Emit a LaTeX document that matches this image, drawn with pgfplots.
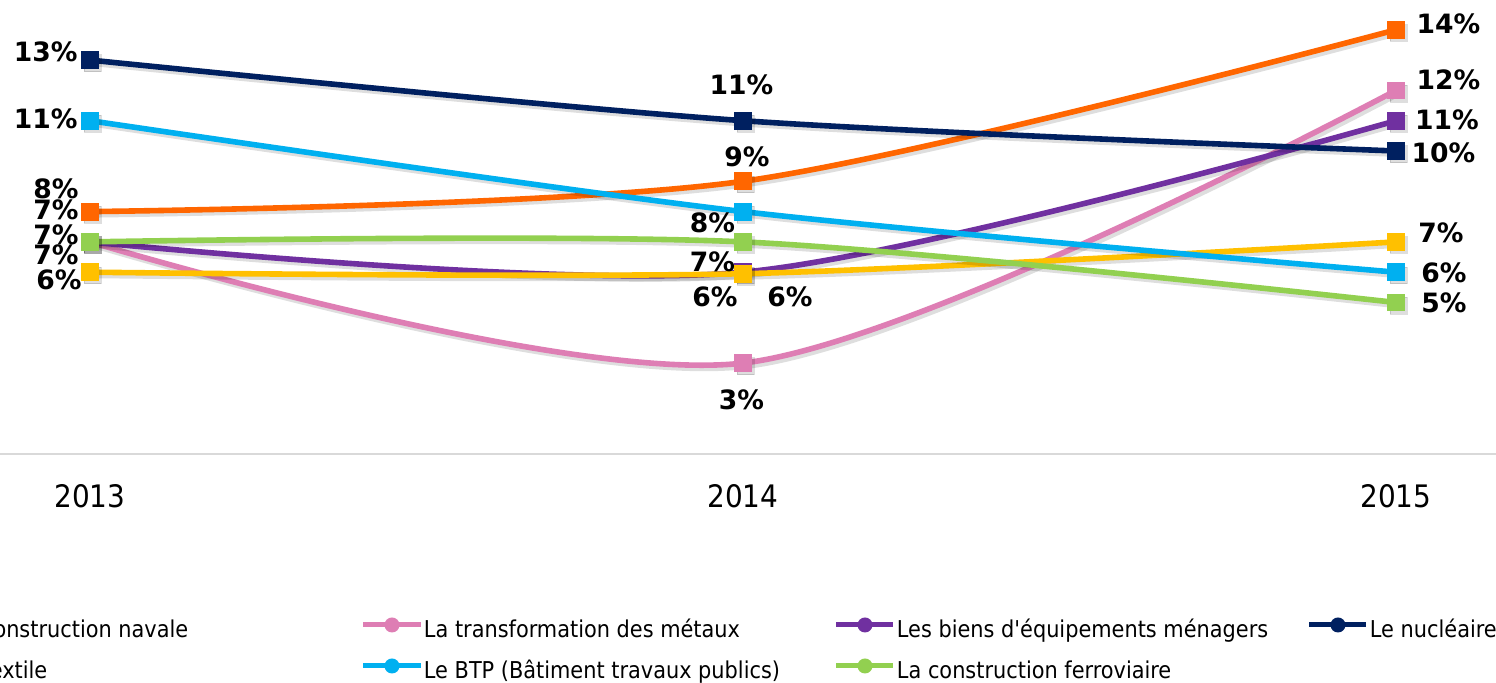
\documentclass[border=0pt]{standalone}
\usepackage{pgfplots}
\pgfplotsset{compat=1.18}
\usepackage{fontspec}
\IfFontExistsTF{DejaVu Sans Condensed}{\setmainfont{DejaVu Sans Condensed}[Ligatures=TeXOff]}{\setmainfont{Liberation Sans}[Ligatures=TeXOff]}
\newfontfamily\lblfont{DejaVu Sans}
\definecolor{cnav}{HTML}{FF6600}
\definecolor{cmet}{HTML}{DE7EB4}
\definecolor{cbie}{HTML}{7030A0}
\definecolor{cnuc}{HTML}{002060}
\definecolor{ctex}{HTML}{FFC000}
\definecolor{cbtp}{HTML}{00B0F0}
\definecolor{cfer}{HTML}{92D050}
\definecolor{axgray}{HTML}{D9D9D9}
\newcommand\LE[1]{\makebox[205.5pt][l]{\rule[-5pt]{0pt}{19.5pt}\hspace{0.5pt}#1}}
\pgfplotsset{shadow/.style={forget plot, color=black, opacity=0.13, xshift=1.3pt, yshift=-1.6pt}}
\begin{document}
\begin{tikzpicture}
\path[use as bounding box] (118.25pt,-114.5pt) rectangle (866.25pt,227pt);
\fill[white] (118.25pt,-114.5pt) rectangle (866.25pt,227pt);
\clip (118.25pt,-114.5pt) rectangle (866.25pt,227pt);
\begin{axis}[
  at={(0pt,0pt)}, anchor=south west,
  scale only axis, width=979.5pt, height=227.25pt,
  xmin=-0.5, xmax=2.5, ymin=0, ymax=15,
  axis lines*=left,
  axis line style={draw=axgray, line width=1pt},
  ytick=\empty,
  xtick={0,1,2}, xticklabels={2013,2014,2015},
  major tick length=0pt,
  xticklabel style={anchor=base, yshift=-27pt, font=\fontsize{15.5}{18}\selectfont},
  clip=false,
  every axis plot/.append style={line width=2.8pt, smooth, mark=square*, mark size=4.2pt,
     mark options={solid, rounded corners=1.6pt, line width=0.4pt}},
  legend columns=4,
  legend cell align=left,
  legend image code/.code={
    \draw[#1, line width=2.5pt, mark=none] (0pt,0pt) -- (28.5pt,0pt);
    \fill[#1, draw=none] (14.25pt,0pt) circle (3.75pt);
  },
  legend style={at={(0.06355,-0.34103)}, anchor=north west, draw=none, fill=none,
    inner sep=0pt, outer sep=0pt, column sep=0pt, row sep=4.5pt,
    font=\fontsize{11.6}{14}\selectfont,
    nodes={inner sep=0pt, outer sep=0pt}},
]
\addplot[shadow] coordinates {(0,8.0) (1,9.0) (2,14.0)};
\addplot[color=cnav] coordinates {(0,8.0) (1,9.0) (2,14.0)};
\addlegendentry{\LE{La construction navale}}
\addplot[shadow] coordinates {(0,7.0) (1,3.0) (2,12.0)};
\addplot[color=cmet] coordinates {(0,7.0) (1,3.0) (2,12.0)};
\addlegendentry{\LE{La transformation des métaux}}
\addplot[shadow] coordinates {(0,7.0) (1,6.0) (2,11.0)};
\addplot[color=cbie] coordinates {(0,7.0) (1,6.0) (2,11.0)};
\addlegendentry{\LE{Les biens d'équipements ménagers}}
\addplot[shadow] coordinates {(0,13.0) (1,11.0) (2,10.0)};
\addplot[color=cnuc] coordinates {(0,13.0) (1,11.0) (2,10.0)};
\addlegendentry{\LE{Le nucléaire}}
\addplot[shadow] coordinates {(0,6.0) (1,5.95) (2,7.0)};
\addplot[color=ctex] coordinates {(0,6.0) (1,5.95) (2,7.0)};
\addlegendentry{\LE{Le textile}}
\addplot[shadow] coordinates {(0,11.0) (1,8.0) (2,6.0)};
\addplot[color=cbtp] coordinates {(0,11.0) (1,8.0) (2,6.0)};
\addlegendentry{\LE{Le BTP (Bâtiment travaux publics)}}
\addplot[shadow] coordinates {(0,7.0) (1,7.0) (2,5.0)};
\addplot[color=cfer] coordinates {(0,7.0) (1,7.0) (2,5.0)};
\addlegendentry{\LE{La construction ferroviaire}}
\end{axis}
\begin{scope}[shift={(118.25pt,227pt)}, x=0.5pt, y=-0.5pt,
  every node/.style={font=\lblfont\bfseries\fontsize{13.3}{15}\selectfont, inner sep=0pt}]
\node[anchor=base east] at (78,62) {13\%};
\node[anchor=base east] at (78,129) {11\%};
\node[anchor=base east] at (79,199) {8\%};
\node[anchor=base east] at (79,220) {7\%};
\node[anchor=base east] at (79,245) {7\%};
\node[anchor=base east] at (79,265) {7\%};
\node[anchor=base east] at (82,290) {6\%};
\node[anchor=base] at (741.5,95) {11\%};
\node[anchor=base] at (747,167) {9\%};
\node[anchor=base] at (712.5,233) {8\%};
\node[anchor=base] at (712.5,272) {7\%};
\node[anchor=base] at (715,307) {6\%};
\node[anchor=base] at (790,307) {6\%};
\node[anchor=base] at (741.5,410) {3\%};
\node[anchor=base] at (1448.5,34) {14\%};
\node[anchor=base] at (1448.5,90) {12\%};
\node[anchor=base] at (1447,130) {11\%};
\node[anchor=base] at (1443.5,163) {10\%};
\node[anchor=base] at (1441,243) {7\%};
\node[anchor=base] at (1444,283) {6\%};
\node[anchor=base] at (1444,313) {5\%};
\end{scope}
\end{tikzpicture}
\end{document}
